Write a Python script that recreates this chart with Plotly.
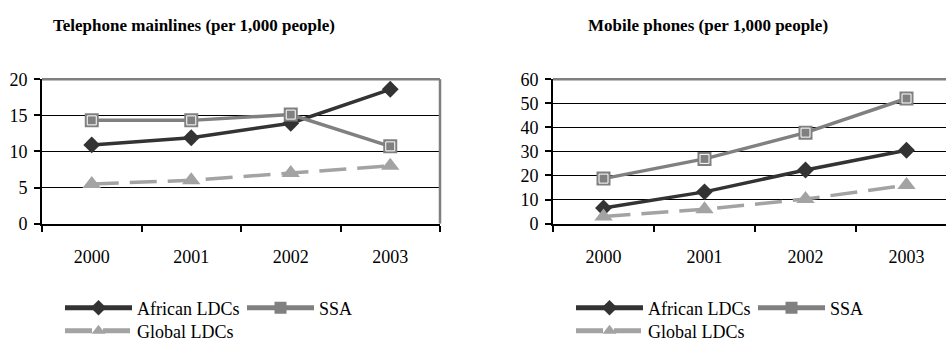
import plotly.graph_objects as go

# Data: ICT indicators, 2000-2003
years = ["2000", "2001", "2002", "2003"]

mainlines_african_ldcs = [10.9, 11.9, 13.9, 18.6]
mainlines_ssa = [14.3, 14.3, 15.1, 10.7]
mainlines_global_ldcs = [5.5, 6.0, 7.0, 8.0]

mobile_african_ldcs = [6.5, 13.2, 22.3, 30.5]
mobile_ssa = [18.7, 26.9, 37.8, 52.0]
mobile_global_ldcs = [3.0, 6.0, 10.2, 16.0]

titles = ["Telephone mainlines (per 1,000 people)", "Mobile phones (per 1,000 people)"]

FONT = "Liberation Serif"
DARK = "#333333"
MID = "#808080"
LIGHT = "#a3a3a3"

W, H = 946, 350

fig = go.Figure()


def add_panel(xa, ya, african, ssa, glob, legend_a, legend_b):
    fig.add_trace(go.Scatter(
        x=years, y=african, name="African LDCs", mode="lines+markers",
        xaxis=xa, yaxis=ya, legend=legend_a,
        line=dict(color=DARK, width=3.5),
        marker=dict(symbol="diamond", size=13, color=DARK),
    ))
    fig.add_trace(go.Scatter(
        x=years, y=ssa, name="SSA", mode="lines+markers",
        xaxis=xa, yaxis=ya, legend=legend_a,
        line=dict(color=MID, width=3.5),
        marker=dict(symbol="square", size=14, color=MID),
    ))
    # inner highlight on the square markers
    fig.add_trace(go.Scatter(
        x=years, y=ssa, mode="markers", showlegend=False, hoverinfo="skip",
        xaxis=xa, yaxis=ya,
        marker=dict(symbol="square-open", size=9, color="white", line=dict(width=1, color="white")),
    ))
    fig.add_trace(go.Scatter(
        x=years, y=glob, name="Global LDCs", mode="lines+markers",
        xaxis=xa, yaxis=ya, legend=legend_b,
        line=dict(color=LIGHT, width=3.5, dash="27px,11px"),
        marker=dict(symbol="triangle-up", size=16, color=LIGHT),
    ))


add_panel("x", "y", mainlines_african_ldcs, mainlines_ssa, mainlines_global_ldcs, "legend", "legend2")
add_panel("x2", "y2", mobile_african_ldcs, mobile_ssa, mobile_global_ldcs, "legend3", "legend4")

y_top, y_bot = 75, 231.5
ydom = [1 - y_bot / H, 1 - y_top / H]

xcommon = dict(
    type="category", tickson="boundaries", showgrid=False,
    showline=True, linecolor="black", linewidth=2,
    ticks="outside", ticklen=6, tickwidth=2, tickcolor="black",
    tickfont=dict(family=FONT, size=18, color="black"),
    ticklabelstandoff=16, fixedrange=True,
)
ycommon = dict(
    showgrid=True, gridcolor="black", gridwidth=1,
    showline=True, linecolor="black", linewidth=2,
    ticks="outside", ticklen=6, tickwidth=2, tickcolor="black",
    tickfont=dict(family=FONT, size=18, color="black"),
    ticklabelstandoff=3, zeroline=False, fixedrange=True,
)

# right panel runs past the page edge, so its x range is cut short
right_cat_w = 101.0
right_left = 553
right_range_end = -0.5 + (W - right_left) / right_cat_w

fig.update_layout(
    xaxis=dict(xcommon, domain=[42 / W, 440 / W], range=[-0.5, 3.5], anchor="y"),
    yaxis=dict(ycommon, domain=ydom, range=[0, 20], dtick=5, anchor="x"),
    xaxis2=dict(xcommon, domain=[right_left / W, 1.0], range=[-0.5, right_range_end], anchor="y2"),
    yaxis2=dict(ycommon, domain=ydom, range=[0, 60], dtick=10, anchor="x2"),
)

# grey plot-area frame (top and right edges)
frame = dict(type="line", line=dict(color="#7f7f7f", width=2.5), layer="above")
fig.add_shape(frame, xref="x domain", yref="y domain", x0=0, x1=1, y0=1, y1=1)
fig.add_shape(frame, xref="x domain", yref="y domain", x0=1, x1=1, y0=0, y1=1)
fig.add_shape(frame, xref="x2 domain", yref="y2 domain", x0=0, x1=1, y0=1, y1=1)

for cx, text in zip([194, 708], titles):
    fig.add_annotation(
        x=cx / W, y=1 - 17 / H, xref="paper", yref="paper", text="<b>%s</b>" % text,
        showarrow=False, xanchor="center", yanchor="middle",
        font=dict(family=FONT, size=17, color="black"),
    )

legend_style = dict(
    orientation="h", xanchor="left", yanchor="middle",
    font=dict(family=FONT, size=18, color="black"),
    bgcolor="rgba(0,0,0,0)", borderwidth=0, itemwidth=67,
    entrywidth=100, entrywidthmode="pixels", itemsizing="constant",
    itemclick=False, itemdoubleclick=False,
)

fig.update_layout(
    width=W, height=H,
    margin=dict(l=0, r=0, t=0, b=0),
    paper_bgcolor="white", plot_bgcolor="white",
    font=dict(family=FONT),
    showlegend=True,
    legend=dict(legend_style, x=60 / W, y=1 - 323 / H),
    legend2=dict(legend_style, x=60 / W, y=1 - 348 / H),
    legend3=dict(legend_style, x=571 / W, y=1 - 323 / H),
    legend4=dict(legend_style, x=571 / W, y=1 - 348 / H),
)

fig.write_html("out.html")
